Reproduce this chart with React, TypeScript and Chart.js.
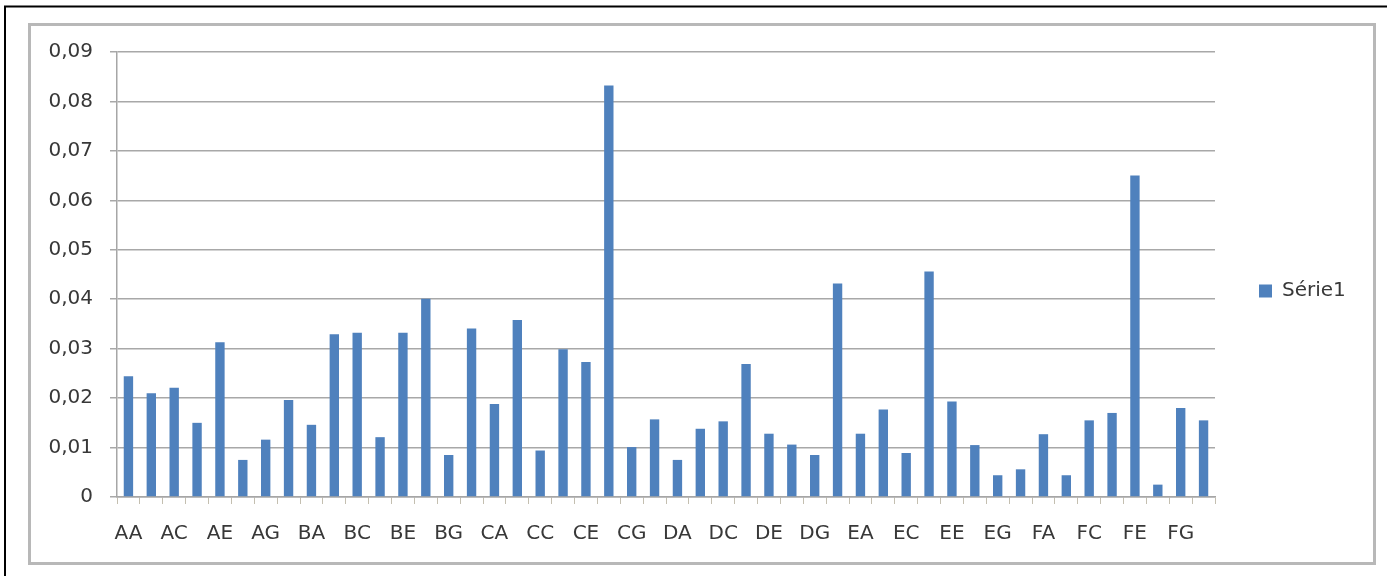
import React, { useEffect, useRef } from "react";
import { Chart, registerables } from "chart.js";

Chart.register(...registerables);

const categories: string[] = [
  "AA", "AB", "AC", "AD", "AE", "AF", "AG", "AH",
  "BA", "BB", "BC", "BD", "BE", "BF", "BG", "BH",
  "CA", "CB", "CC", "CD", "CE", "CF", "CG", "CH",
  "DA", "DB", "DC", "DD", "DE", "DF", "DG", "DH",
  "EA", "EB", "EC", "ED", "EE", "EF", "EG", "EH",
  "FA", "FB", "FC", "FD", "FE", "FF", "FG", "FH",
];

const serie1: number[] = [
  0.0244, 0.021, 0.0221, 0.015, 0.0313, 0.0075, 0.0116, 0.0196,
  0.0146, 0.0329, 0.0332, 0.0121, 0.0332, 0.0401, 0.0085, 0.0341,
  0.0188, 0.0358, 0.0094, 0.0299, 0.0273, 0.0832, 0.0101, 0.0157,
  0.0075, 0.0138, 0.0153, 0.0269, 0.0128, 0.0106, 0.0085, 0.0432,
  0.0128, 0.0177, 0.0089, 0.0456, 0.0193, 0.0105, 0.0044, 0.0056,
  0.0127, 0.0044, 0.0155, 0.017, 0.065, 0.0025, 0.018, 0.0155,
];

const seriesName = "Série1";
const yMax = 0.09;
const yStep = 0.01;

const FONT = "'DejaVu Sans', sans-serif";
const TEXT = "#383838";

const framePlugin = {
  id: "frame",
  beforeDraw(chart: any) {
    const ctx = chart.ctx;
    ctx.save();
    ctx.fillStyle = "#ffffff";
    ctx.fillRect(0, 0, chart.width, chart.height);
    // outer black border (top & left)
    ctx.strokeStyle = "#000000";
    ctx.lineWidth = 2;
    ctx.beginPath();
    ctx.moveTo(5, chart.height);
    ctx.lineTo(5, 6.5);
    ctx.lineTo(chart.width, 6.5);
    ctx.stroke();
    // gray chart frame
    ctx.strokeStyle = "#b8b8b8";
    ctx.lineWidth = 3;
    ctx.strokeRect(29.5, 24.5, 1345, 539);
    ctx.restore();
  },
};

// vertically centre the legend on the reference's legend row
const legendPlace = {
  id: "legendPlace",
  afterLayout(chart: any) {
    const l = chart.legend;
    if (!l) return;
    const h = l.bottom - l.top;
    const centre = 291;
    l.top = centre - h / 2;
    l.bottom = l.top + h;
  },
};

export default function App() {
  const canvasRef = useRef<HTMLCanvasElement | null>(null);

  useEffect(() => {
    const canvas = canvasRef.current;
    if (!canvas) return;
    const chart = new Chart(canvas, {
      type: "bar",
      data: {
        labels: categories,
        datasets: [
          {
            label: seriesName,
            data: serie1,
            backgroundColor: "#4F81BD",
            borderWidth: 0,
            categoryPercentage: 1,
            barPercentage: 0.41,
          },
        ],
      },
      options: {
        animation: false,
        responsive: false,
        maintainAspectRatio: false,
        layout: { padding: { top: 52, bottom: 0, left: 0, right: 42 } },
        plugins: {
          tooltip: { enabled: false },
          legend: {
            display: true,
            position: "right",
            maxWidth: 130,
            labels: {
              boxWidth: 13,
              boxHeight: 13,
              padding: 44,
              color: TEXT,
              font: { family: FONT, size: 20 },
            },
          },
        },
        scales: {
          x: {
            offset: true,
            afterFit: (scale: any) => {
              scale.height = 79;
            },
            grid: {
              offset: true,
              drawOnChartArea: false,
              drawTicks: true,
              tickLength: 7,
              color: "#c4bfb0",
              lineWidth: 1,
            },
            border: { display: true, color: "#a6a6a6", width: 1.5 },
            ticks: {
              autoSkip: false,
              maxRotation: 0,
              minRotation: 0,
              padding: 18,
              color: TEXT,
              font: { family: FONT, size: 20 },
              callback: (_v: any, i: number) => (i % 2 === 0 ? categories[i] : ""),
            },
          },
          y: {
            min: 0,
            max: yMax,
            afterFit: (scale: any) => {
              scale.width = 117;
            },
            grid: {
              color: "#a8a8a8",
              lineWidth: 1.5,
              drawTicks: true,
              tickLength: 7,
            },
            border: { display: true, color: "#a6a6a6", width: 1.5 },
            ticks: {
              stepSize: yStep,
              padding: 17,
              color: TEXT,
              font: { family: FONT, size: 20 },
              callback: (v: any) => {
                const n = Number(v);
                if (Math.abs(n) < 1e-9) return "0";
                return n.toFixed(2).replace(".", ",");
              },
            },
          },
        },
      },
      plugins: [framePlugin, legendPlace],
    });
    return () => chart.destroy();
  }, []);

  return (
    <div style={{ position: "absolute", left: 0, top: 0, width: 1387, height: 576, background: "#fff" }}>
      <canvas ref={canvasRef} width={1387} height={576} style={{ display: "block" }} />
    </div>
  );
}
